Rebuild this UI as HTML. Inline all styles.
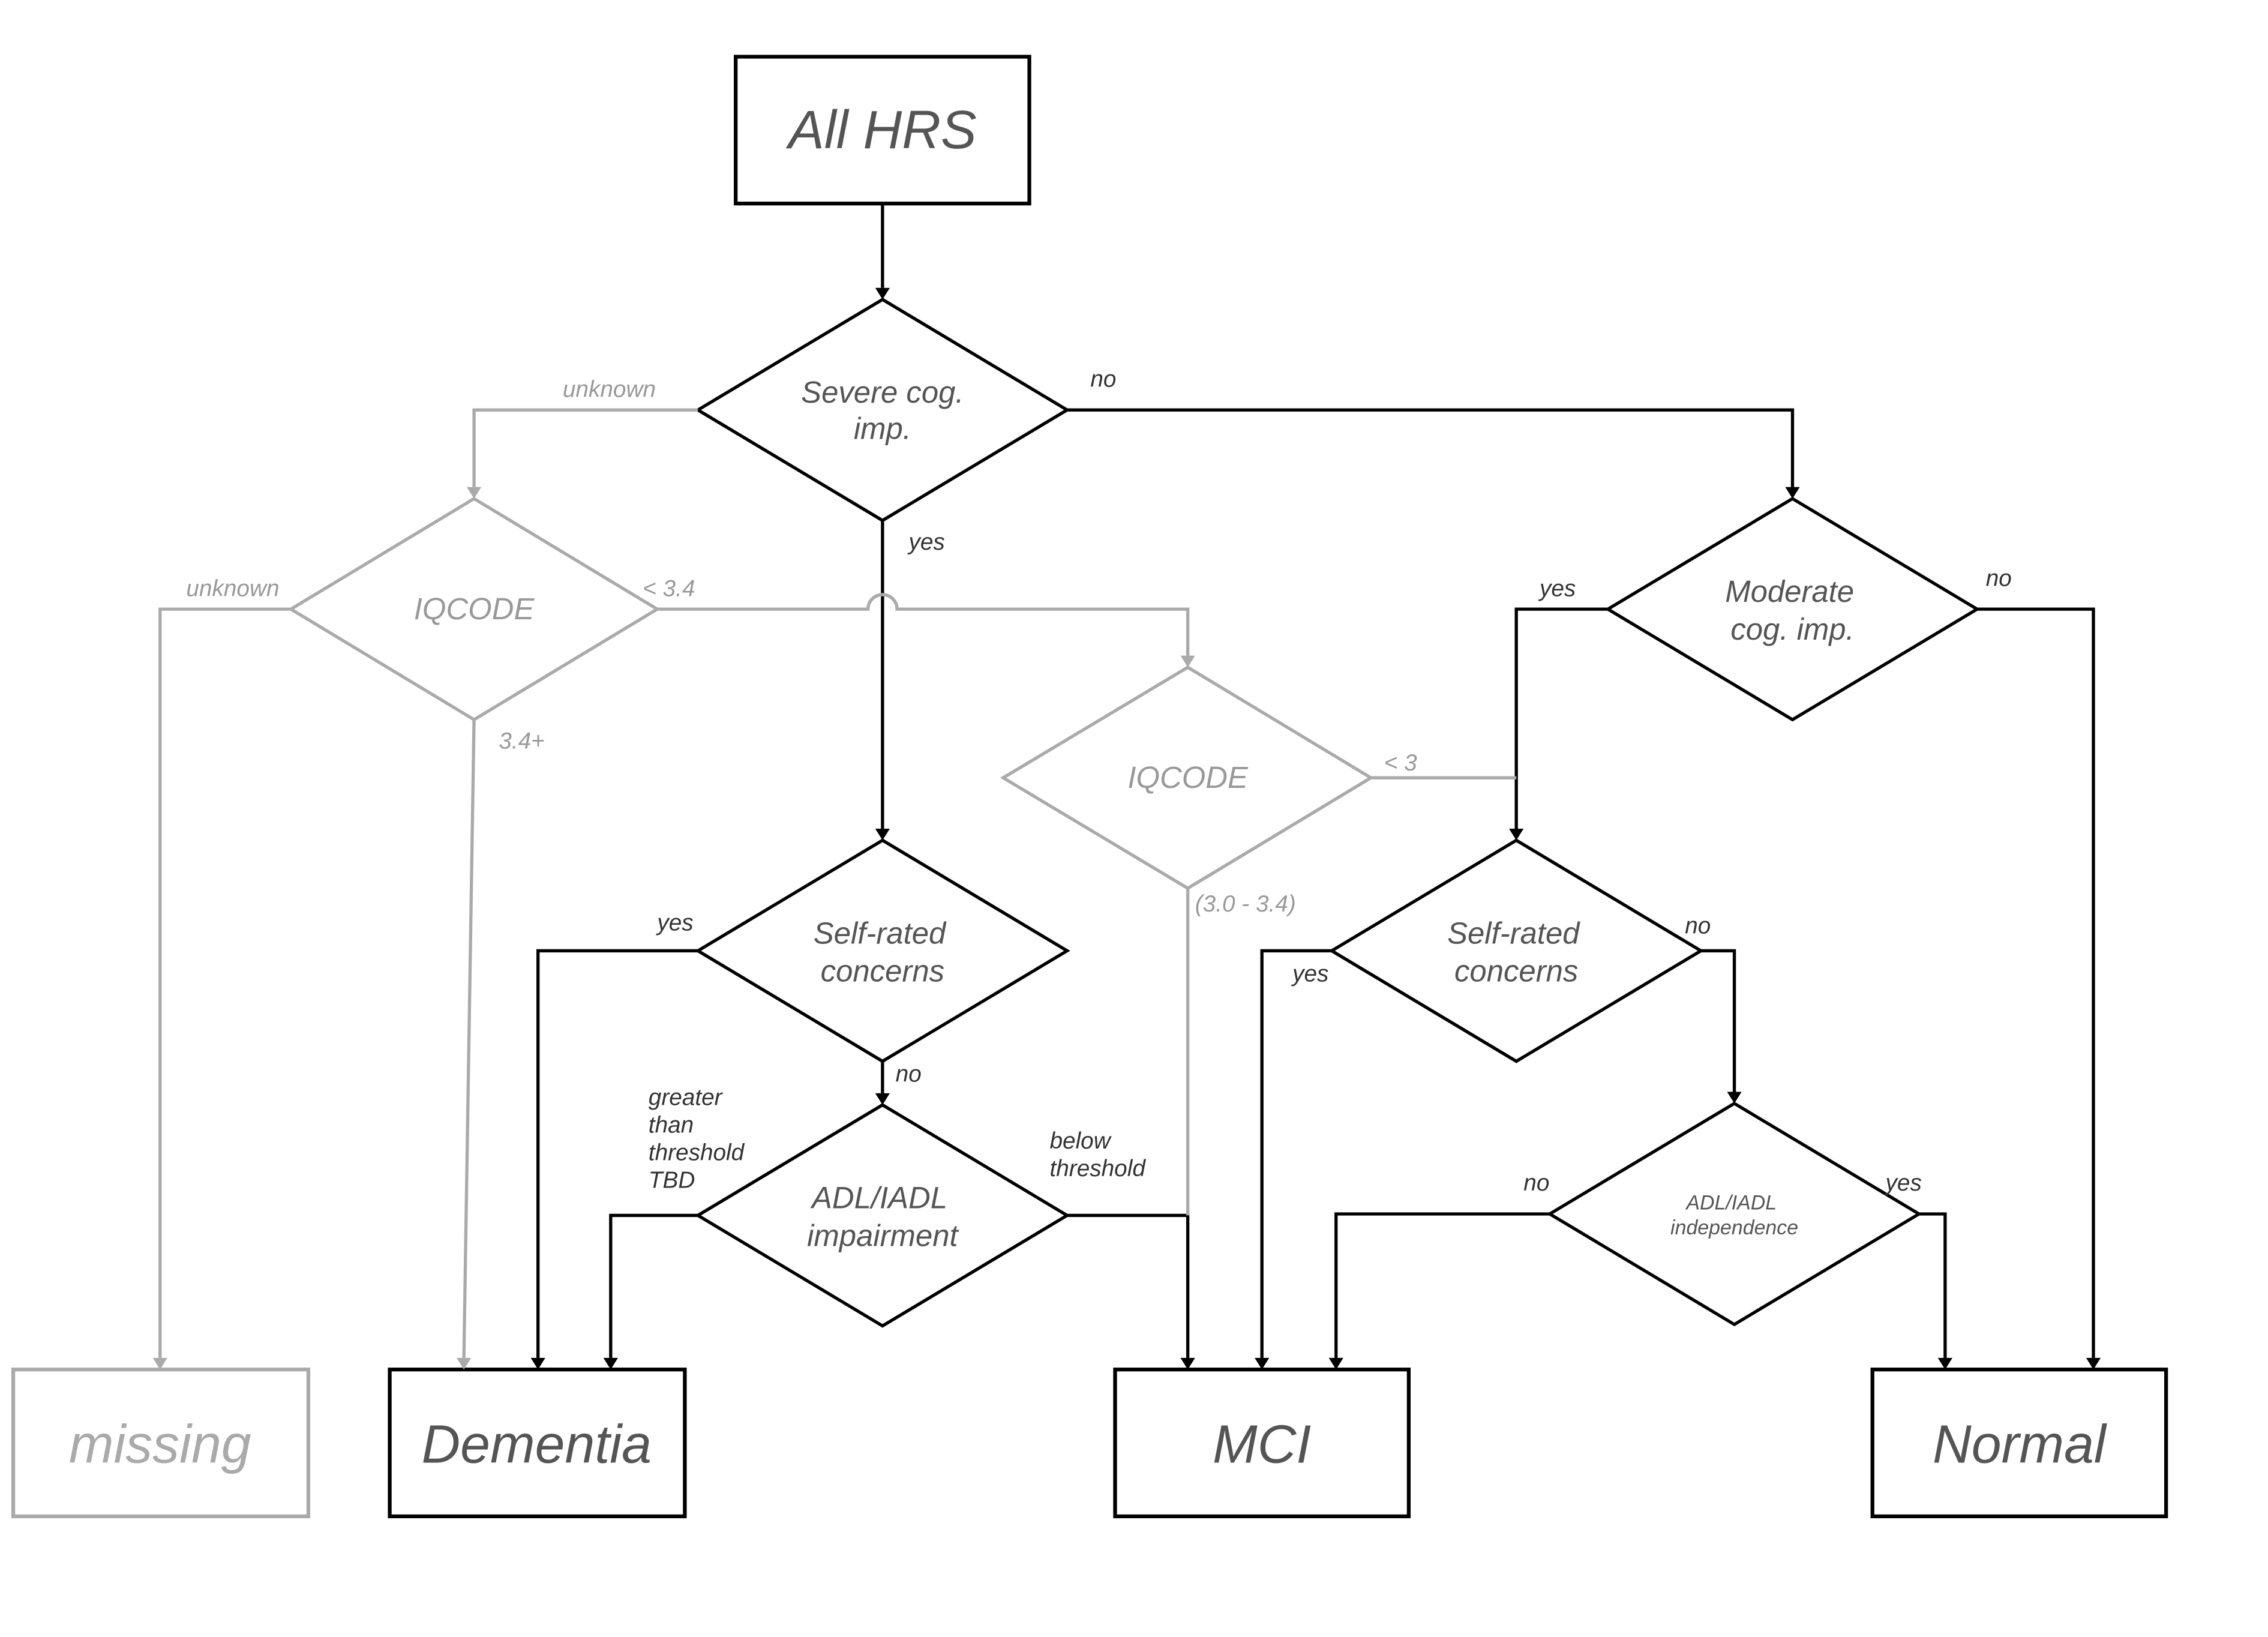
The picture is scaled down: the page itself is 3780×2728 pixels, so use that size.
<!DOCTYPE html>
<html><head><meta charset="utf-8"><style>
html,body{margin:0;padding:0;background:#fff;}
svg{display:block;}
text{font-family:"Liberation Sans",sans-serif;font-style:italic;}
.lab{font-size:16px;fill:#333;}
.glab{font-size:16px;fill:#999;}
.dt{font-size:21px;fill:#555;text-anchor:middle;}
.gdt{font-size:21px;fill:#999;text-anchor:middle;}
.bt{font-size:37px;fill:#555;text-anchor:middle;}
</style></head><body>
<svg width="3780" height="2728" viewBox="0 0 1560 1126" xmlns="http://www.w3.org/2000/svg">
<defs>
<marker id="ab" markerWidth="10" markerHeight="10" refX="5" refY="9" orient="auto" markerUnits="userSpaceOnUse" viewBox="0 0 10 10"><path d="M1,0 L5,9 L9,0 Z" fill="#000" transform="rotate(-90 5 5)"/></marker>
</defs>
<g fill="none" stroke="#000" stroke-width="2.2">
<rect x="506" y="39" width="202" height="101" stroke-width="2.6"/>
<path d="M607,140 V198"/>
<polygon points="607,206 734,282 607,358 480,282"/>
<path d="M734,282 H1233 V335"/>
<path d="M607,358 V570"/>
<polygon points="1233,343 1360,419 1233,495 1106,419"/>
<path d="M1106,419 H1043 V570"/>
<path d="M1360,419 H1440 V934"/>
<polygon points="607,578 734,654 607,730 480,654"/>
<path d="M480,654 H370 V934"/>
<path d="M607,730 V752"/>
<polygon points="607,760 734,836 607,912 480,836"/>
<path d="M480,836 H420 V934"/>
<path d="M734,836 H817 V934"/>
<polygon points="1043,578 1170,654 1043,730 916,654"/>
<path d="M916,654 H868 V934"/>
<path d="M1170,654 H1193 V751"/>
<polygon points="1193,759 1320,835 1193,911 1066,835"/>
<path d="M1066,835 H919 V934"/>
<path d="M1320,835 H1338 V934"/>
<rect x="268" y="942" width="203" height="101" stroke-width="2.6"/>
<rect x="767" y="942" width="202" height="101" stroke-width="2.6"/>
<rect x="1288" y="942" width="202" height="101" stroke-width="2.6"/>
</g>
<g fill="#000">
<polygon points="602,198 612,198 607,206"/>
<polygon points="1228,335 1238,335 1233,343"/>
<polygon points="602,570 612,570 607,578"/>
<polygon points="1038,570 1048,570 1043,578"/>
<polygon points="1435,934 1445,934 1440,942"/>
<polygon points="365,934 375,934 370,942"/>
<polygon points="602,752 612,752 607,760"/>
<polygon points="415,934 425,934 420,942"/>
<polygon points="812,934 822,934 817,942"/>
<polygon points="863,934 873,934 868,942"/>
<polygon points="1188,751 1198,751 1193,759"/>
<polygon points="914,934 924,934 919,942"/>
<polygon points="1333,934 1343,934 1338,942"/>
</g>
<g fill="none" stroke="#aaa" stroke-width="2.2">
<path d="M480,282 H326 V335"/>
<polygon points="326,343 452,419 326,495 200,419"/>
<path d="M200,419 H110 V934"/>
<path d="M452,419 H597 A10,10 0 0 1 617,419 H817 V451"/>
<path d="M326,495 L319,934"/>
<polygon points="817,459 943,535 817,611 690,535"/>
<path d="M943,535 H1043"/>
<path d="M817,611 V836"/>
<rect x="9" y="942" width="203" height="101" stroke-width="2.6"/>
</g>
<g fill="#aaa">
<polygon points="321,335 331,335 326,343"/>
<polygon points="105,934 115,934 110,942"/>
<polygon points="812,451 822,451 817,459"/>
<polygon points="314,934 324,934 319,942"/>
</g>
<text class="bt" x="607" y="102">All HRS</text>
<text class="dt" x="607" y="277">Severe cog.</text>
<text class="dt" x="607" y="302">imp.</text>
<text class="dt" x="1231" y="414">Moderate</text>
<text class="dt" x="1233" y="440">cog. imp.</text>
<text class="gdt" x="326" y="426">IQCODE</text>
<text class="gdt" x="817" y="542">IQCODE</text>
<text class="dt" x="605" y="649">Self-rated</text>
<text class="dt" x="607" y="675">concerns</text>
<text class="dt" x="1041" y="649">Self-rated</text>
<text class="dt" x="1043" y="675">concerns</text>
<text class="dt" x="605" y="831">ADL/IADL</text>
<text class="dt" x="607" y="857">impairment</text>
<text class="dt" x="1191" y="832" style="font-size:14px">ADL/IADL</text>
<text class="dt" x="1193" y="849" style="font-size:14px">independence</text>
<text class="bt" x="110" y="1006" style="fill:#aaa">missing</text>
<text class="bt" x="369" y="1006">Dementia</text>
<text class="bt" x="868" y="1006">MCI</text>
<text class="bt" x="1389" y="1006">Normal</text>
<text class="glab" x="387" y="273">unknown</text>
<text class="lab" x="750" y="266">no</text>
<text class="lab" x="625" y="378">yes</text>
<text class="glab" x="128" y="410">unknown</text>
<text class="glab" x="442" y="410">&lt; 3.4</text>
<text class="glab" x="343" y="515">3.4+</text>
<text class="lab" x="1059" y="410">yes</text>
<text class="lab" x="1366" y="403">no</text>
<text class="glab" x="952" y="530">&lt; 3</text>
<text class="glab" x="822" y="627">(3.0 - 3.4)</text>
<text class="lab" x="452" y="640">yes</text>
<text class="lab" x="616" y="744">no</text>
<text class="lab" x="446" y="760">greater</text>
<text class="lab" x="446" y="779">than</text>
<text class="lab" x="446" y="798">threshold</text>
<text class="lab" x="446" y="817">TBD</text>
<text class="lab" x="722" y="790">below</text>
<text class="lab" x="722" y="809">threshold</text>
<text class="lab" x="889" y="675">yes</text>
<text class="lab" x="1159" y="642">no</text>
<text class="lab" x="1048" y="819">no</text>
<text class="lab" x="1297" y="819">yes</text>
</svg>
</body></html>
